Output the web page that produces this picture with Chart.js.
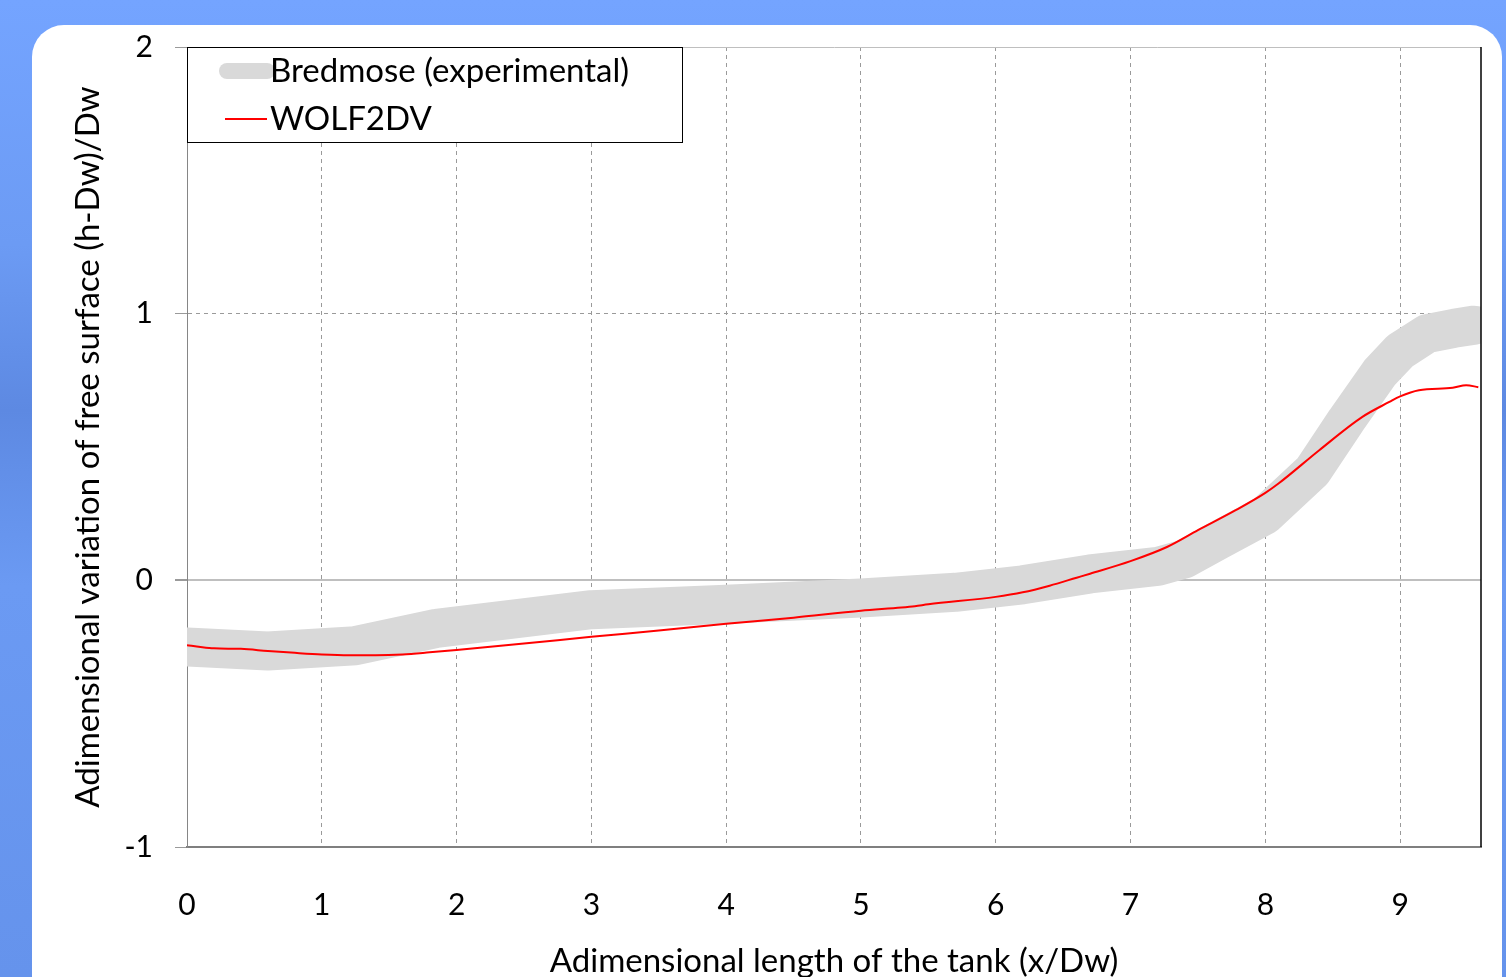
<!DOCTYPE html>
<html>
<head>
<meta charset="utf-8">
<script src="https://cdn.jsdelivr.net/npm/chart.js@4"></script>
<style>
  html, body { margin: 0; padding: 0; width: 1506px; height: 977px; overflow: hidden; }
  body { background: linear-gradient(180deg, #74a4ff 0%, #6c9bf4 25%, #5d89e2 42%, #6b9af3 60%, #6593ec 100%); position: relative; }
  #card { position: absolute; left: 32px; top: 25px; width: 1470px; height: 1000px; background: #fff; border-radius: 32px; }
  #wrap { position: absolute; left: 0; top: 0; width: 1506px; height: 1000px; }
</style>
</head>
<body>
<div id="card"></div>
<div id="wrap"><canvas id="c" width="1506" height="1000"></canvas></div>
<script>
// Bredmose (experimental) band - centre line
const bredmoseX = [0, 0.6, 1.25, 1.85, 3.0, 4.0, 5.0, 5.7, 6.2, 6.7, 7.2, 7.4, 7.65, 8.0, 8.35, 8.6, 8.85, 9.0, 9.2, 9.4, 9.55];
const bredmoseY = [-0.25, -0.265, -0.245, -0.18, -0.11, -0.09, -0.066, -0.045, -0.017, 0.024, 0.052, 0.08, 0.15, 0.245, 0.41, 0.6, 0.78, 0.86, 0.925, 0.945, 0.957];

// WOLF2DV simulation
const wolfX = [0, 0.1, 0.2, 0.4, 0.6, 0.8, 1.0, 1.2, 1.4, 1.6, 1.8, 2.0, 2.5, 3.0, 3.5, 4.0, 4.5, 5.0, 5.3, 5.4, 5.5, 6.0, 6.2, 6.4, 6.6, 6.7, 7.0, 7.27, 7.5, 7.78, 8.0, 8.1, 8.4, 8.72, 8.92, 9.0, 9.14, 9.39, 9.49, 9.58];
const wolfY = [-0.243, -0.25, -0.255, -0.257, -0.265, -0.272, -0.278, -0.281, -0.281, -0.278, -0.27, -0.261, -0.237, -0.212, -0.188, -0.163, -0.14, -0.114, -0.102, -0.097, -0.09, -0.062, -0.045, -0.02, 0.01, 0.025, 0.072, 0.125, 0.188, 0.263, 0.328, 0.364, 0.488, 0.613, 0.669, 0.69, 0.713, 0.722, 0.732, 0.724];

const FONT = 'Lato';

const toPoints = (xs, ys) => xs.map((x, i) => ({ x: x, y: ys[i] }));

// boxed legend in the top-left corner + right frame line
const boxLegend = {
  id: 'boxLegend',
  afterDatasetsDraw(chart) {
    const { ctx, chartArea } = chart;
    ctx.save();
    ctx.strokeStyle = '#000';
    ctx.lineWidth = 1.5;
    ctx.beginPath();
    ctx.moveTo(chartArea.right, chartArea.top);
    ctx.lineTo(chartArea.right, chartArea.bottom);
    ctx.stroke();

    const x0 = chartArea.left, y0 = chartArea.top;
    ctx.fillStyle = '#fff';
    ctx.fillRect(x0, y0, 495, 95);
    ctx.lineWidth = 1;
    ctx.strokeStyle = '#000';
    ctx.strokeRect(x0 + 0.5, y0 + 0.5, 495, 95);

    ctx.font = '33px ' + FONT;
    ctx.textBaseline = 'middle';
    ctx.fillStyle = '#000';
    const ds = chart.data.datasets;
    // band swatch
    ctx.lineCap = 'round';
    ctx.lineWidth = 16;
    ctx.strokeStyle = ds[0].borderColor;
    ctx.beginPath(); ctx.moveTo(x0 + 40, y0 + 24); ctx.lineTo(x0 + 80, y0 + 24); ctx.stroke();
    ctx.fillText(ds[0].label, x0 + 83, y0 + 24);
    // line swatch
    ctx.lineCap = 'butt';
    ctx.lineWidth = 2;
    ctx.strokeStyle = ds[1].borderColor;
    ctx.beginPath(); ctx.moveTo(x0 + 38, y0 + 72); ctx.lineTo(x0 + 80, y0 + 72); ctx.stroke();
    ctx.fillText(ds[1].label, x0 + 83, y0 + 72);
    ctx.restore();
  }
};

new Chart(document.getElementById('c'), {
  type: 'line',
  data: {
    datasets: [
      {
        label: 'Bredmose (experimental)',
        data: toPoints(bredmoseX, bredmoseY),
        borderColor: '#d9d9d9',
        borderWidth: 39,
        borderCapStyle: 'round',
        borderJoinStyle: 'round',
        pointRadius: 0,
        tension: 0,
        clip: 0,
        order: 2
      },
      {
        label: 'WOLF2DV',
        data: toPoints(wolfX, wolfY),
        borderColor: '#ff0000',
        borderWidth: 2,
        pointRadius: 0,
        cubicInterpolationMode: 'monotone',
        clip: 0,
        order: 1
      }
    ]
  },
  options: {
    responsive: false,
    animation: false,
    devicePixelRatio: 1,
    layout: { padding: { left: 50, right: 25, top: 47, bottom: 0 } },
    plugins: { legend: { display: false }, tooltip: { enabled: false } },
    scales: {
      x: {
        type: 'linear',
        min: 0,
        max: 9.6,
        afterFit: (s) => { s.height = 153; },
        ticks: { stepSize: 1, includeBounds: false, padding: 40, color: '#000', font: { family: FONT, size: 30 } },
        grid: { color: '#9a9a9a', lineWidth: 1, drawTicks: false },
        border: { color: '#7f7f7f', width: 2, dash: (c) => (c.tick ? [4, 4] : []) },
        title: { display: true, text: 'Adimensional length of the tank (x/Dw)', color: '#000', font: { family: FONT, size: 33 }, padding: { top: 0, bottom: 19 } }
      },
      y: {
        min: -1,
        max: 2,
        afterFit: (s) => { s.width = 137; },
        ticks: { stepSize: 1, padding: 22, color: '#000', font: { family: FONT, size: 30 } },
        grid: {
          color: (c) => (c.tick && c.tick.value === 1 ? '#9a9a9a' : '#bfbfbf'),
          lineWidth: (c) => (c.tick && c.tick.value === 0 ? 2 : 1),
          tickLength: 12,
          tickColor: '#9a9a9a'
        },
        border: { color: '#868686', width: 1, dash: (c) => (c.tick && c.tick.value === 1 ? [4, 4] : []) },
        title: { display: true, text: 'Adimensional variation of free surface (h-Dw)/Dw', color: '#000', font: { family: FONT, size: 33 }, padding: { top: 19, bottom: 0 } }
      }
    }
  },
  plugins: [boxLegend]
});
</script>
</body>
</html>
